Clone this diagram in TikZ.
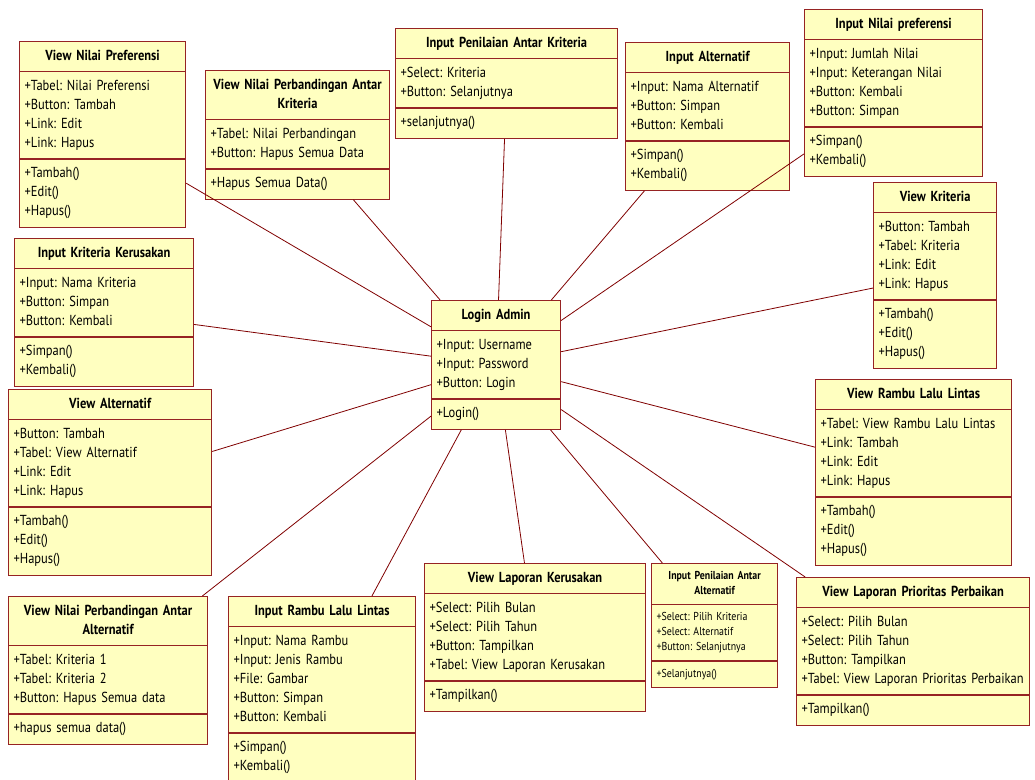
\documentclass[tikz,border=0pt]{standalone}
\usepackage{fontspec}
\setmainfont{PT Sans}[FakeStretch=0.86]
\usetikzlibrary{shapes.multipart}
\definecolor{classfill}{RGB}{255,255,192}
\definecolor{classline}{RGB}{150,35,35}
\definecolor{assocline}{RGB}{128,0,0}
\newcommand{\ctitle}[1]{\centering\bfseries\strut #1\strut\par}
\frenchspacing
\begin{document}
\begin{tikzpicture}[x=1pt,y=-1pt,
  umlclass/.style={rectangle split, rectangle split parts=3, draw=classline, fill=classfill,
    line width=1.2pt, inner xsep=5pt, inner ysep=5pt, text width=#1, align=left,
    anchor=north west, font=\fontsize{14.5}{19}\selectfont\frenchspacing},
  assoc/.style={draw=assocline, line width=0.8pt}]
\useasboundingbox[fill=white] (0,0) rectangle (1035,779);

\node[umlclass=156pt] (viewpref) at (19,41) {\ctitle{View Nilai Preferensi}
  \nodepart{two}\strut +Tabel: Nilai Preferensi\\+Button: Tambah\\+Link: Edit\\+Link: Hapus\strut
  \nodepart{three}\strut +Tambah()\\+Edit()\\+Hapus()\strut};
\node[umlclass=174pt] (viewbandkrit) at (205,70) {\ctitle{View Nilai Perbandingan Antar\\Kriteria}
  \nodepart{two}\strut +Tabel: Nilai Perbandingan\\+Button: Hapus Semua Data\strut
  \nodepart{three}\strut +Hapus Semua Data()\strut};
\node[umlclass=212pt] (inpenkrit) at (395,28) {\ctitle{Input Penilaian Antar Kriteria}
  \nodepart{two}\strut +Select: Kriteria\\+Button: Selanjutnya\strut
  \nodepart{three}\strut +selanjutnya()\strut};
\node[umlclass=154pt] (inalt) at (625,42) {\ctitle{Input Alternatif}
  \nodepart{two}\strut +Input: Nama Alternatif\\+Button: Simpan\\+Button: Kembali\strut
  \nodepart{three}\strut +Simpan()\\+Kembali()\strut};
\node[umlclass=168pt] (innilpref) at (804,9) {\ctitle{Input Nilai preferensi}
  \nodepart{two}\strut +Input: Jumlah Nilai\\+Input: Keterangan Nilai\\+Button: Kembali\\+Button: Simpan\strut
  \nodepart{three}\strut +Simpan()\\+Kembali()\strut};
\node[umlclass=113pt] (viewkrit) at (873,182) {\ctitle{View Kriteria}
  \nodepart{two}\strut +Button: Tambah\\+Tabel: Kriteria\\+Link: Edit\\+Link: Hapus\strut
  \nodepart{three}\strut +Tambah()\\+Edit()\\+Hapus()\strut};
\node[umlclass=169pt] (inkrit) at (14,238) {\ctitle{Input Kriteria Kerusakan}
  \nodepart{two}\strut +Input: Nama Kriteria\\+Button: Simpan\\+Button: Kembali\strut
  \nodepart{three}\strut +Simpan()\\+Kembali()\strut};
\node[umlclass=119pt] (login) at (431,300) {\ctitle{Login Admin}
  \nodepart{two}\strut +Input: Username\\+Input: Password\\+Button: Login\strut
  \nodepart{three}\strut +Login()\strut};
\node[umlclass=193pt] (viewalt) at (8,389) {\ctitle{View Alternatif}
  \nodepart{two}\strut +Button: Tambah\\+Tabel: View Alternatif\\+Link: Edit\\+Link: Hapus\strut
  \nodepart{three}\strut +Tambah()\\+Edit()\\+Hapus()\strut};
\node[umlclass=186pt] (viewrambu) at (815,379) {\ctitle{View Rambu Lalu Lintas}
  \nodepart{two}\strut +Tabel: View Rambu Lalu Lintas\\+Link: Tambah\\+Link: Edit\\+Link: Hapus\strut
  \nodepart{three}\strut +Tambah()\\+Edit()\\+Hapus()\strut};
\node[umlclass=189pt] (viewbandalt) at (8,596) {\ctitle{View Nilai Perbandingan Antar\\Alternatif}
  \nodepart{two}\strut +Tabel: Kriteria 1\\+Tabel: Kriteria 2\\+Button: Hapus Semua data\strut
  \nodepart{three}\strut +hapus semua data()\strut};
\node[umlclass=177pt] (inrambu) at (228,596) {\ctitle{Input Rambu Lalu Lintas}
  \nodepart{two}\strut +Input: Nama Rambu\\+Input: Jenis Rambu\\+File: Gambar\\+Button: Simpan\\+Button: Kembali\strut
  \nodepart{three}\strut +Simpan()\\+Kembali()\strut};
\node[umlclass=211pt] (viewlapker) at (424,563) {\ctitle{View Laporan Kerusakan}
  \nodepart{two}\strut +Select: Pilih Bulan\\+Select: Pilih Tahun\\+Button: Tampilkan\\+Tabel: View Laporan Kerusakan\strut
  \nodepart{three}\strut +Tampilkan()\strut};
\node[umlclass=116pt, font=\fontsize{11.5}{15}\selectfont\frenchspacing] (inpenalt) at (651,563) {\ctitle{Input Penilaian Antar\\Alternatif}
  \nodepart{two}\strut +Select: Pilih Kriteria\\+Select: Alternatif\\+Button: Selanjutnya\strut
  \nodepart{three}\strut +Selanjutnya()\strut};
\node[umlclass=223pt] (viewlapprio) at (796,577) {\ctitle{View Laporan Prioritas Perbaikan}
  \nodepart{two}\strut +Select: Pilih Bulan\\+Select: Pilih Tahun\\+Button: Tampilkan\\+Tabel: View Laporan Prioritas Perbaikan\strut
  \nodepart{three}\strut +Tampilkan()\strut};

\foreach \cl in {viewpref,viewbandkrit,inpenkrit,inalt,innilpref,viewkrit,inkrit,viewalt,
    viewrambu,viewbandalt,inrambu,viewlapker,inpenalt,viewlapprio}
  \draw[assoc] (login) -- (\cl);
\end{tikzpicture}
\end{document}
